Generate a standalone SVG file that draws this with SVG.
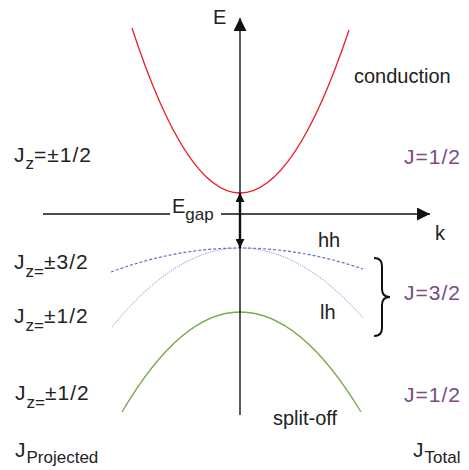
<svg xmlns="http://www.w3.org/2000/svg" width="469" height="470" viewBox="0 0 469 470">
<defs>
<style>
text{font-family:"Liberation Sans",Arial,sans-serif;font-size:20px;fill:#222}
.j{font-size:21px;letter-spacing:1px}
.sub{font-size:17px;letter-spacing:0}
.p{fill:#7a4a85}
.ax{stroke:#111;stroke-width:1.4;fill:none}
.band{fill:none}
</style>
<marker id="ah" viewBox="0 0 10 10" refX="10" refY="5" markerWidth="13" markerHeight="13" markerUnits="userSpaceOnUse" orient="auto"><path d="M0,0 L10,5 L0,10 z" fill="#111"/></marker>
<marker id="ah2" viewBox="0 0 10 10" refX="10" refY="5" markerWidth="14" markerHeight="9" markerUnits="userSpaceOnUse" orient="auto"><path d="M0,0 L10,5 L0,10 z" fill="#111"/></marker>
</defs>
<rect width="469" height="470" fill="#fff"/>
<g id="bands">
<path id="conduction-band" class="band" d="M132,28 Q186,193 240,193 Q294.5,193 349,30" stroke="#e8202a" stroke-width="1.3"/>
<path id="hh-band" class="band" d="M111,272 Q175.5,248 240,248 Q301.5,248 363,269" stroke="#6b6bd0" stroke-width="1.2" stroke-dasharray="3,2"/>
<path id="lh-band" class="band" d="M112,327 Q176,248 240,248 Q301.5,248 363,318" stroke="#8080d8" stroke-width="1" stroke-dasharray="1.2,1.2"/>
<path id="splitoff-band" class="band" d="M122,412 Q181,312 240,312 Q300.5,312 361,412" stroke="#7aab48" stroke-width="1.3"/>
</g>
<g id="connectors">
<line class="ax" x1="240" y1="415" x2="240" y2="18" marker-end="url(#ah)"/>
<line class="ax" x1="43" y1="214" x2="170" y2="214"/>
<line class="ax" x1="221" y1="214" x2="430" y2="214" marker-end="url(#ah)"/>
<line x1="240" y1="221" x2="240" y2="193" stroke="#111" stroke-width="2.4" marker-end="url(#ah2)"/>
<line x1="240" y1="221" x2="240" y2="248" stroke="#111" stroke-width="2.4" marker-end="url(#ah2)"/>
<path id="brace" d="M374,258 Q382,258 382,266 L382,289 Q382,297 390,297 Q382,297 382,305 L382,328 Q382,336 374,336" fill="none" stroke="#111" stroke-width="2"/>
</g>
<g id="label-E"><text x="213" y="24">E</text></g>
<g id="label-k"><text x="435" y="240">k</text></g>
<g id="label-Egap"><text x="172" y="213">E<tspan class="sub" dy="7">gap</tspan></text></g>
<g id="label-conduction"><text x="354" y="83">conduction</text></g>
<g id="label-hh"><text x="318" y="247">hh</text></g>
<g id="label-lh"><text x="320" y="319">lh</text></g>
<g id="label-splitoff"><text x="273" y="425">split-off</text></g>
<g id="label-J12-top"><text class="p j" x="404" y="164">J=1/2</text></g>
<g id="label-J32"><text class="p j" x="404" y="300">J=3/2</text></g>
<g id="label-J12-bot"><text class="p j" x="404" y="402">J=1/2</text></g>
<g id="label-Jz-c"><text class="j" x="14" y="162">J<tspan class="sub" dy="7">z</tspan><tspan dy="-7">=±1/2</tspan></text></g>
<g id="label-Jz-hh"><text class="j" x="14" y="269">J<tspan class="sub" dy="8">z=</tspan><tspan dy="-8">±3/2</tspan></text></g>
<g id="label-Jz-lh"><text class="j" x="14" y="323">J<tspan class="sub" dy="8">z=</tspan><tspan dy="-8">±1/2</tspan></text></g>
<g id="label-Jz-so"><text class="j" x="15" y="400">J<tspan class="sub" dy="8">z=</tspan><tspan dy="-8">±1/2</tspan></text></g>
<g id="label-Jproj"><text class="j" x="15" y="457">J<tspan class="sub" dy="6">Projected</tspan></text></g>
<g id="label-Jtot"><text class="j" x="413" y="457">J<tspan class="sub" dy="6">Total</tspan></text></g>
</svg>
